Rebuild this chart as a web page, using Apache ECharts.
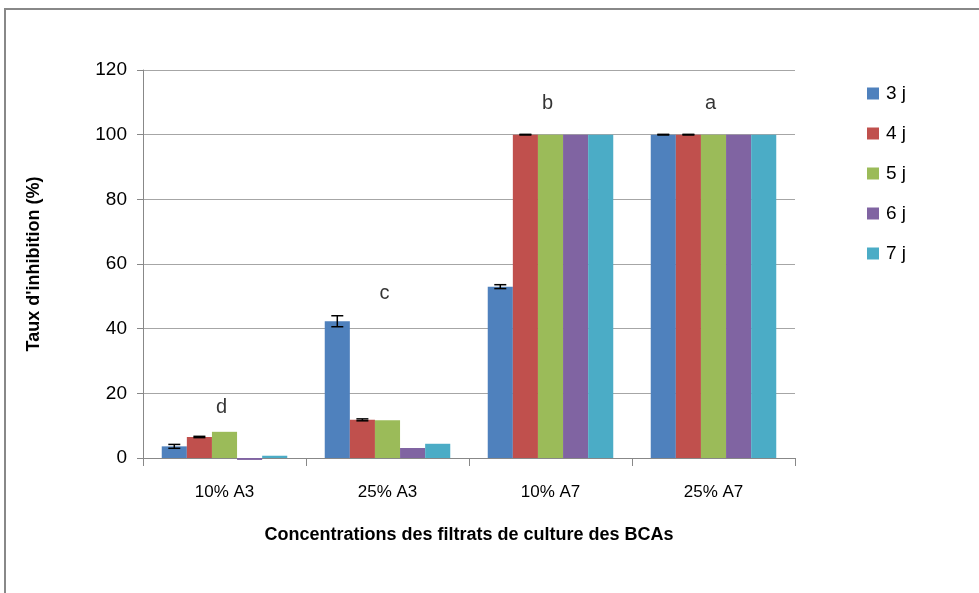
<!DOCTYPE html>
<html>
<head>
<meta charset="utf-8">
<script src="https://cdn.jsdelivr.net/npm/echarts@6/dist/echarts.min.js"></script>
<style>
  html, body { margin: 0; padding: 0; background: #fff; }
  #main { width: 979px; height: 593px; }
</style>
</head>
<body>
<div id="main"></div>
<script>
// categories and values
var categories = ['10% A3', '25% A3', '10% A7', '25% A7'];
var seriesNames = ['3 j', '4 j', '5 j', '6 j', '7 j'];
var colors = ['#4F81BD', '#C0504D', '#9BBB59', '#8064A2', '#4BACC6'];
var v3 = [3.6, 42.3, 53.0, 100];
var v4 = [6.5, 11.8, 100, 100];
var v5 = [8.1, 11.7, 100, 100];
var v6 = [-0.6, 3.1, 100, 100];
var v7 = [0.7, 4.4, 100, 100];
var err3 = [0.6, 1.7, 0.6, 0.1];
var err4 = [0.2, 0.3, 0.1, 0.1];
var letters = ['d', 'c', 'b', 'a'];
var letterY = [15.5, 51, 109.5, 109.5];

var values = [v3, v4, v5, v6, v7];
var errors = [err3, err4];
var gapRatio = 0.23;
var font = 'Liberation Sans';

var chart = echarts.init(document.getElementById('main'));

var series = seriesNames.map(function (name, k) {
    return {
        name: name,
        type: 'bar',
        data: values[k],
        clip: false,
        barGap: '0%',
        barCategoryGap: '23%',
        itemStyle: { color: colors[k] }
    };
});

// error bars for the first two series
errors.forEach(function (err, k) {
    series.push({
        type: 'custom',
        z: 10,
        silent: true,
        data: err.map(function (e, i) { return [i, values[k][i], e]; }),
        renderItem: function (params, api) {
            var i = api.value(0), val = api.value(1), e = api.value(2);
            var band = api.size([1, 0])[0];
            var groupW = band * (1 - gapRatio);
            var barW = groupW / 5;
            var c = api.coord([i, val]);
            var x = c[0] - groupW / 2 + barW * (k + 0.5);
            var yTop = api.coord([i, val + e])[1];
            var yBot = api.coord([i, val - e])[1];
            var cap = 6;
            var st = { stroke: '#000', lineWidth: 1.5 };
            return {
                type: 'group',
                children: [
                    { type: 'line', shape: { x1: x, y1: yTop, x2: x, y2: yBot }, style: st },
                    { type: 'line', shape: { x1: x - cap, y1: yTop, x2: x + cap, y2: yTop }, style: st },
                    { type: 'line', shape: { x1: x - cap, y1: yBot, x2: x + cap, y2: yBot }, style: st }
                ]
            };
        }
    });
});

// significance letters
series.push({
    type: 'scatter',
    symbolSize: 0,
    silent: true,
    data: letterY.map(function (y, i) { return [i, y]; }),
    label: {
        show: true,
        position: 'inside',
        offset: [-3, 0],
        formatter: function (p) { return letters[p.dataIndex]; },
        fontFamily: font,
        fontSize: 20,
        color: '#000'
    }
});

chart.setOption({
    animation: false,
    backgroundColor: '#fff',
    textStyle: { fontFamily: font },
    graphic: [{
        type: 'rect',
        shape: { x: 5, y: 9, width: 1000, height: 620 },
        style: { fill: 'none', stroke: '#888', lineWidth: 2 },
        z: -1
    }],
    grid: { left: 143, right: 184, top: 70, bottom: 135 },
    legend: {
        orient: 'vertical',
        left: 862,
        top: 79,
        itemWidth: 12,
        itemHeight: 12,
        itemGap: 21,
        icon: 'rect',
        data: seriesNames,
        textStyle: { fontFamily: font, fontSize: 19, color: '#000', padding: [0, 0, 0, 2] }
    },
    xAxis: {
        type: 'category',
        data: categories,
        name: 'Concentrations des filtrats de culture des BCAs',
        nameLocation: 'middle',
        nameGap: 68,
        nameTextStyle: { fontFamily: font, fontSize: 18, fontWeight: 'bold', color: '#000' },
        axisLine: { lineStyle: { color: '#888', width: 1 } },
        axisTick: { show: true, length: 8, lineStyle: { color: '#888' } },
        axisLabel: { fontFamily: font, fontSize: 17, color: '#000', margin: 26 }
    },
    yAxis: {
        type: 'value',
        min: 0,
        max: 120,
        interval: 20,
        name: "Taux d'inhibition (%)",
        nameLocation: 'middle',
        nameGap: 100,
        nameTextStyle: { fontFamily: font, fontSize: 18, fontWeight: 'bold', color: '#000' },
        axisLine: { show: true, lineStyle: { color: '#888' } },
        axisTick: { show: true, length: 6, lineStyle: { color: '#888' } },
        axisLabel: { fontFamily: font, fontSize: 19, color: '#000', margin: 16 },
        splitLine: { lineStyle: { color: '#A6A6A6', width: 1 } }
    },
    series: series
});
</script>
</body>
</html>
